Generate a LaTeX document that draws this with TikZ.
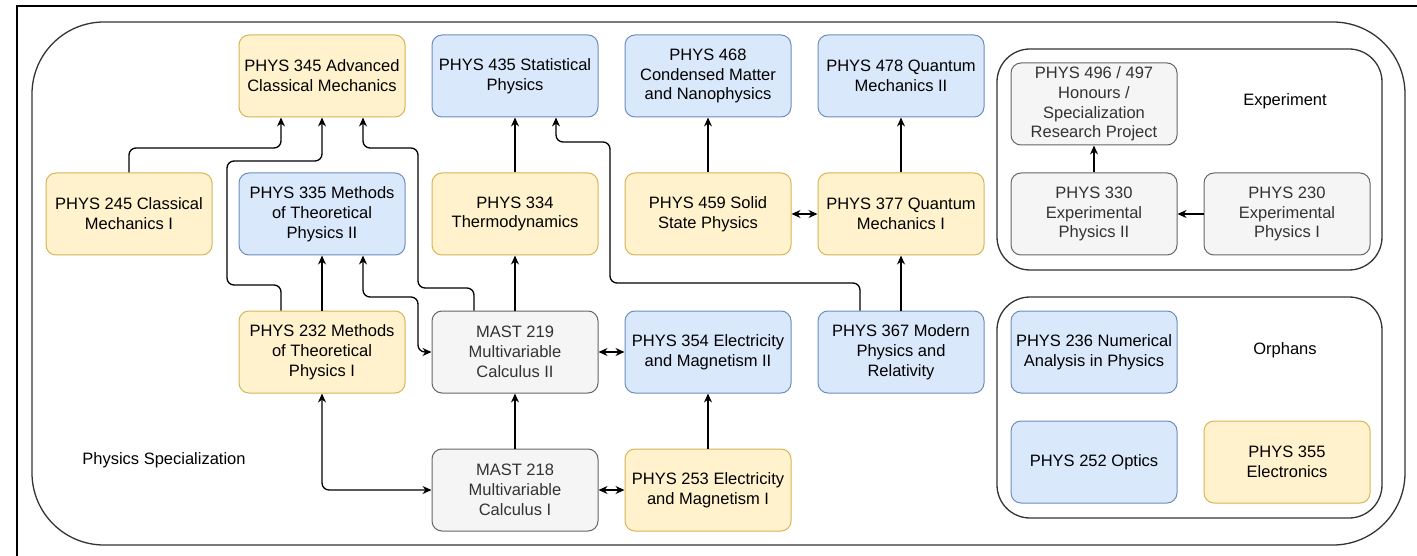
\documentclass[tikz,border=0pt]{standalone}
\usepackage{fontspec}
\setmainfont{Liberation Sans}
\usetikzlibrary{arrows.meta,calc}
\definecolor{yfill}{HTML}{FFF2CC}
\definecolor{ystroke}{HTML}{D6B656}
\definecolor{bfill}{HTML}{DAE8FC}
\definecolor{bstroke}{HTML}{6C8EBF}
\definecolor{gfill}{HTML}{F5F5F5}
\definecolor{gstroke}{HTML}{666666}
\definecolor{gtext}{HTML}{333333}
\definecolor{frame}{HTML}{333333}
\tikzset{
  x=1pt,y=-1pt,
  course/.style={rounded corners=10pt,line width=1pt,minimum width=166pt,minimum height=82pt,
    inner sep=0pt,align=center,font=\fontsize{16.5}{19.8}\selectfont},
  yc/.style={course,fill=yfill,draw=ystroke},
  bc/.style={course,fill=bfill,draw=bstroke},
  gc/.style={course,fill=gfill,draw=gstroke,text=gtext},
  lbl/.style={font=\fontsize{16.5}{19.8}\selectfont,inner sep=0pt},
  conn/.style={draw,line width=1.3pt,rounded corners=7pt,-{Stealth[length=9pt,width=8pt]}},
  dconn/.style={draw,line width=1.3pt,rounded corners=7pt,{Stealth[length=9pt,width=8pt]}-{Stealth[length=9pt,width=8pt]}},
  container/.style={draw=frame,line width=1.3pt},
}
\begin{document}
\begin{tikzpicture}
\useasboundingbox (0,0) rectangle (1417,556);
\fill[white] (0,0) rectangle (1417,556);
% outer frame
\draw[line width=1.5pt] (17,556) -- (17,6) -- (1417,6);
% containers
\draw[container,rounded corners=72pt] (32,22) rectangle (1405,545);
\draw[container,rounded corners=33pt] (997,49) rectangle (1382,270);
\draw[container,rounded corners=33pt] (997,297) rectangle (1382,518);

% row 1
\node[yc] (p345) at (322,76) {PHYS 345 Advanced\\Classical Mechanics};
\node[bc] (p435) at (515,76) {PHYS 435 Statistical\\Physics};
\node[bc] (p468) at (708,76) {PHYS 468\\Condensed Matter\\and Nanophysics};
\node[bc] (p478) at (901,76) {PHYS 478 Quantum\\Mechanics II};
% row 2
\node[yc] (p245) at (129,214) {PHYS 245 Classical\\Mechanics I};
\node[bc] (p335) at (322,214) {PHYS 335 Methods\\of Theoretical\\Physics II};
\node[yc] (p334) at (515,214) {PHYS 334\\Thermodynamics};
\node[yc] (p459) at (708,214) {PHYS 459 Solid\\State Physics};
\node[yc] (p377) at (901,214) {PHYS 377 Quantum\\Mechanics I};
% row 3
\node[yc] (p232) at (322,352) {PHYS 232 Methods\\of Theoretical\\Physics I};
\node[gc] (m219) at (515,352) {MAST 219\\Multivariable\\Calculus II};
\node[bc] (p354) at (708,352) {PHYS 354 Electricity\\and Magnetism II};
\node[bc] (p367) at (901,352) {PHYS 367 Modern\\Physics and\\Relativity};
% row 4
\node[gc] (m218) at (515,490) {MAST 218\\Multivariable\\Calculus I};
\node[yc] (p253) at (708,490) {PHYS 253 Electricity\\and Magnetism I};
% experiment
\node[gc] (p496) at (1094,104) {PHYS 496 / 497\\Honours /\\Specialization\\Research Project};
\node[gc] (p330) at (1094,214) {PHYS 330\\Experimental\\Physics II};
\node[gc] (p230) at (1287,214) {PHYS 230\\Experimental\\Physics I};
% orphans
\node[bc] (p236) at (1094,352) {PHYS 236 Numerical\\Analysis in Physics};
\node[bc] (p252) at (1094,462) {PHYS 252 Optics};
\node[yc] (p355) at (1287,462) {PHYS 355\\Electronics};
% labels
\node[lbl] (lexp) at (1285,101) {Experiment};
\node[lbl] (lorph) at (1285,350) {Orphans};
\node[lbl] (lspec) at (164,460) {Physics Specialization};

% connectors
\draw[conn] (p245.north) |- (281,148) -- ([xshift=-41pt]p345.south);
\draw[conn] ([xshift=-41pt]p232.north) |- (227,285) |- (322,161) -- (p345.south);
\draw[conn] ([xshift=-41pt]m219.north) |- (418,288) |- (363,148) -- ([xshift=41pt]p345.south);
\draw[conn] (p232.north) -- (p335.south);
\draw[dconn] ([xshift=41pt]p335.south) |- (418,297) |- (m219.west);
\draw[conn] (m219.north) -- (p334.south);
\draw[conn] (p334.north) -- (p435.south);
\draw[conn] ([xshift=-41pt]p367.north) |- (610,283) |- (556,142) -- ([xshift=41pt]p435.south);
\draw[conn] (p459.north) -- (p468.south);
\draw[dconn] (p459.east) -- (p377.west);
\draw[conn] (p377.north) -- (p478.south);
\draw[conn] (p367.north) -- (p377.south);
\draw[dconn] (m219.east) -- (p354.west);
\draw[conn] (m218.north) -- (m219.south);
\draw[conn] (p253.north) -- (p354.south);
\draw[dconn] (m218.east) -- (p253.west);
\draw[dconn] (p232.south) |- (m218.west);
\draw[conn] (p330.north) -- (p496.south);
\draw[conn] (p230.west) -- (p330.east);
\end{tikzpicture}
\end{document}
